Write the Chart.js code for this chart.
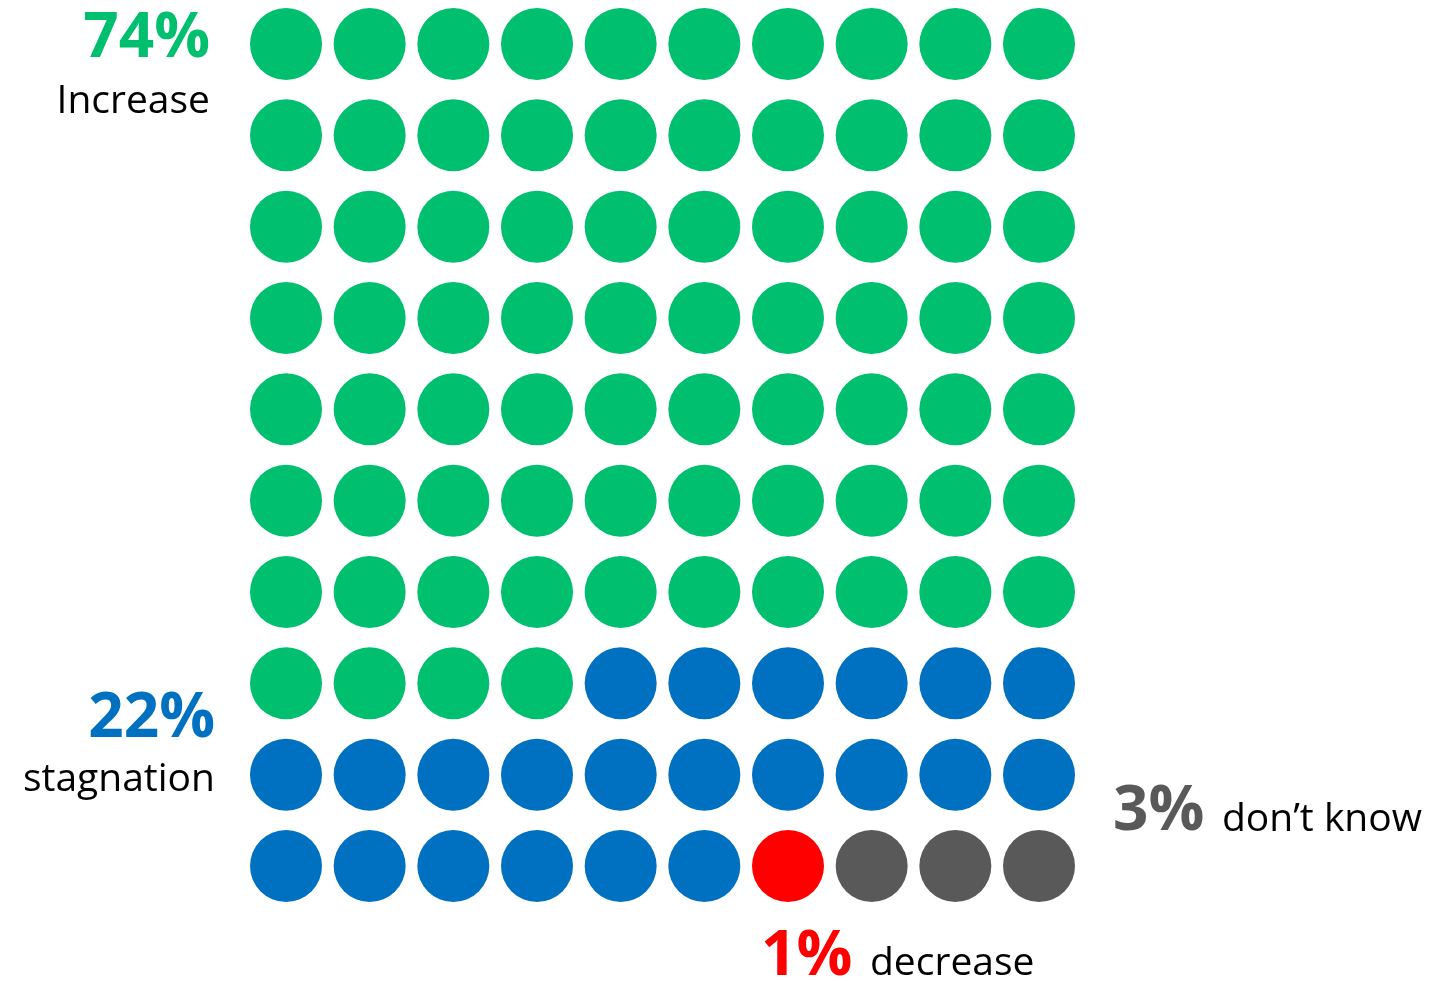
<!DOCTYPE html>
<html>
<head>
<meta charset="utf-8">
<script src="https://cdn.jsdelivr.net/npm/chart.js@4.4.1/dist/chart.umd.min.js"></script>
<style>
  html, body { margin: 0; padding: 0; background: #fff; }
  #wrap { position: relative; width: 1440px; height: 981px; font-family: "Open Sans", "Noto Sans", sans-serif; }
  #waffle { position: absolute; left: 0; top: 0; }
  .lbl { position: absolute; line-height: 1; white-space: nowrap; }
  .pct { font-size: 62px; font-weight: 700; }
  .txt { font-size: 39px; color: #000; }
</style>
</head>
<body>
<div id="wrap">
  <canvas id="waffle" width="1440" height="981"></canvas>
  <div class="lbl pct" style="right:1230px; top:2px; color:#00BF6F">74%</div>
  <div class="lbl txt" style="right:1230px; top:78px">Increase</div>
  <div class="lbl pct" style="right:1225px; top:682px; color:#0070C0">22%</div>
  <div class="lbl txt" style="right:1225px; top:756px">stagnation</div>
  <div class="lbl pct" style="left:1113px; top:775px; color:#595959">3%</div>
  <div class="lbl txt" style="left:1222px; top:796px">don’t know</div>
  <div class="lbl pct" style="left:761px; top:920px; color:#FF0000">1%</div>
  <div class="lbl txt" style="left:870px; top:940px">decrease</div>
</div>
<script>
  // waffle categories in fill order (row by row, from top-left)
  const categories = ["Increase", "stagnation", "decrease", "don’t know"];
  const counts = [74, 22, 1, 3];
  const colors = ["#00BF6F", "#0070C0", "#FF0000", "#595959"];
  const columns = 10;

  let cell = 0;
  const datasets = categories.map((name, k) => {
    const points = [];
    for (let i = 0; i < counts[k]; i += 1) {
      points.push({ x: cell % columns, y: Math.floor(cell / columns) });
      cell += 1;
    }
    return {
      label: name,
      data: points,
      backgroundColor: colors[k],
      borderWidth: 0,
      pointRadius: 36,
      pointHoverRadius: 36,
      clip: false
    };
  });

  new Chart(document.getElementById("waffle"), {
    type: "scatter",
    data: { datasets },
    options: {
      responsive: false,
      animation: false,
      layout: { padding: { left: 286, right: 401, top: 44, bottom: 115 } },
      plugins: { legend: { display: false }, tooltip: { enabled: false } },
      scales: {
        x: { display: false, min: 0, max: 9 },
        y: { display: false, min: 0, max: 9, reverse: true }
      }
    }
  });
</script>
</body>
</html>
